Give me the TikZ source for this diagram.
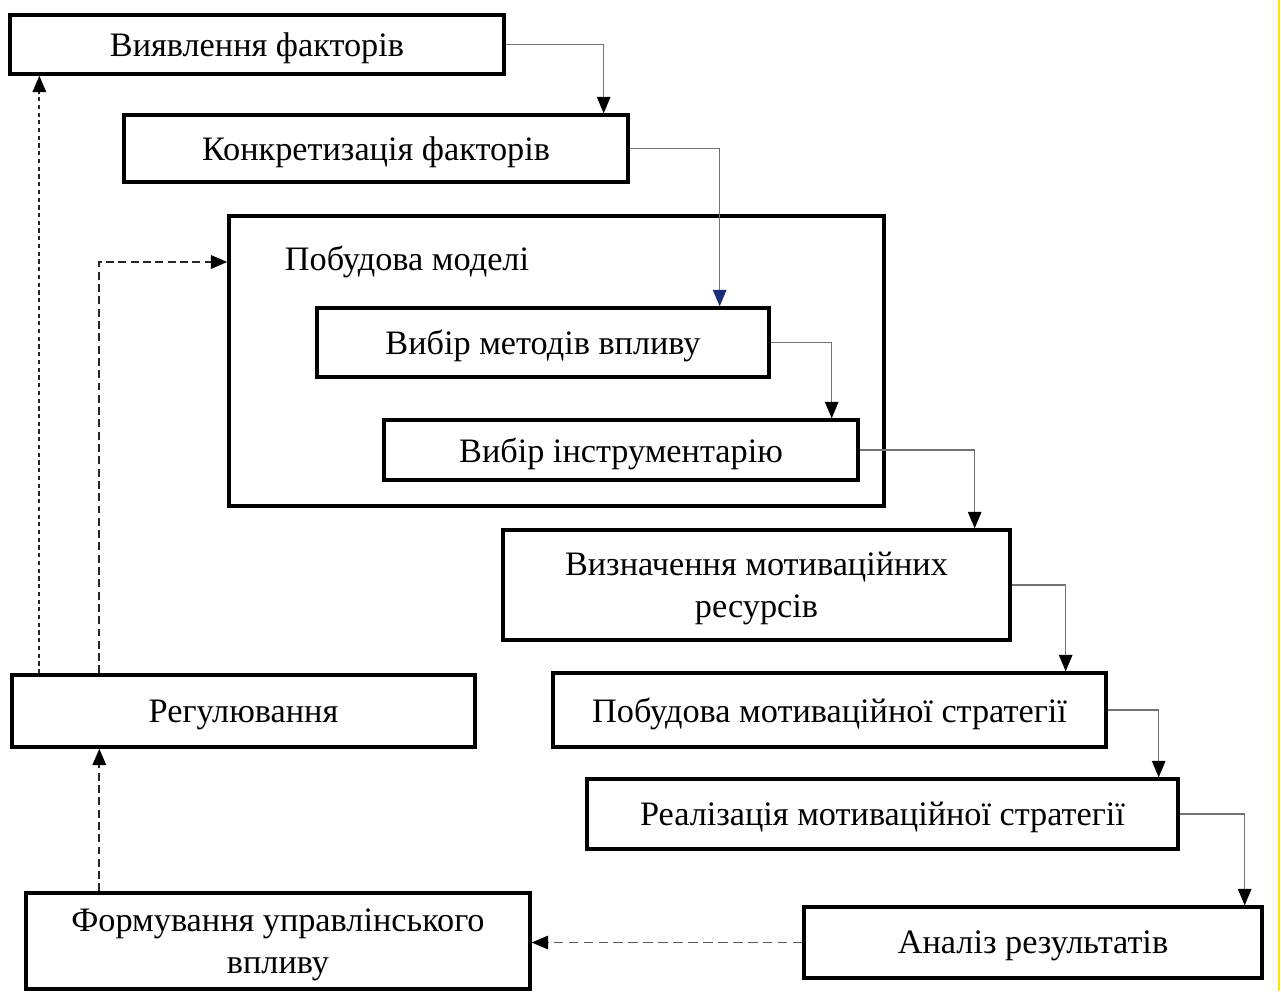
\documentclass[tikz,border=0pt]{standalone}
\usepackage{fontspec}
\setmainfont{Liberation Serif}
\usetikzlibrary{arrows.meta,calc}

\definecolor{tipblue}{RGB}{25,45,120}

\tikzset{
  blk/.style={draw, line width=1.9pt, inner sep=2pt, align=center, text depth=0pt,
    font=\fontsize{19.5}{24}\selectfont},
  conn/.style={draw=black!55, line width=0.8pt,
    -{Triangle[length=0.33cm,width=0.27cm,color=black]}},
  dashconn/.style={draw=black!85, line width=1.1pt, dash pattern=on 4.5pt off 2.5pt,
    -{Triangle[length=0.33cm,width=0.27cm,color=black]}},
  dotconn/.style={dashconn, line width=1pt, dash pattern=on 2.4pt off 2pt}
}

\begin{document}
\begin{tikzpicture}[x=0.02cm, y=-0.02cm]
  \def\px{0.02cm}
  % canvas
  \useasboundingbox (0,0) rectangle (1281,991);
  \draw[yellow!90!orange, line width=1pt] (1279,0) -- (1279,991);

  % outer block of the model
  \node[blk, minimum width=655*\px, minimum height=290*\px] (model) at (556.5,361) {};
  \node[font=\fontsize{19.5}{24}\selectfont] (modtitle) at (407,262) {Побудова моделі};

  % main chain
  \node[blk, minimum width=494*\px, minimum height=59*\px] (vyiav) at (257,44.5) {Виявлення факторів};
  \node[blk, minimum width=504*\px, minimum height=67*\px] (konk) at (376,148.5) {Конкретизація факторів};
  \node[blk, minimum width=452*\px, minimum height=69*\px] (metod) at (543,342.5) {Вибір методів впливу};
  \node[blk, minimum width=474*\px, minimum height=60*\px] (instr) at (621,450) {Вибір інструментарію};
  \node[blk, minimum width=507*\px, minimum height=110*\px] (resurs) at (756.5,585) {Визначення мотиваційних\\ресурсів};
  \node[blk, minimum width=553*\px, minimum height=74*\px] (strat) at (829.5,710) {Побудова мотиваційної стратегії};
  \node[blk, minimum width=591*\px, minimum height=70*\px] (realiz) at (882.5,814) {Реалізація мотиваційної стратегії};
  \node[blk, minimum width=458*\px, minimum height=71*\px] (analiz) at (1033,942.5) {Аналіз результатів};

  % feedback blocks
  \node[blk, minimum width=504*\px, minimum height=96*\px] (form) at (278,941) {Формування управлінського\\впливу};
  \node[blk, minimum width=463*\px, minimum height=72*\px] (rehul) at (243.5,711) {Регулювання};

  % forward arrows
  \draw[conn] (vyiav.east) -| ($(konk.north east)+(-26,0)$);
  \draw[conn, -{Triangle[length=0.33cm,width=0.27cm,color=tipblue]}] (konk.east) -| ($(metod.north east)+(-51,0)$);
  \draw[conn] (metod.east) -| ($(instr.north east)+(-28,0)$);
  \draw[conn] (instr.east) -| ($(resurs.north east)+(-37,0)$);
  \draw[conn] (resurs.east) -| ($(strat.north east)+(-42,0)$);
  \draw[conn] (strat.east) -| ($(realiz.north east)+(-21,0)$);
  \draw[conn] (realiz.east) -| ($(analiz.north east)+(-19,0)$);

  % feedback arrows
  \coordinate (lup) at ($(rehul.north west)+(29,0)$);
  \coordinate (rup) at ($(rehul.north west)+(89,0)$);
  \draw[dashconn, draw=black!65, dash pattern=on 5.5pt off 3pt] (analiz.west) -- (analiz.west -| form.east);
  \draw[dashconn] (form.north -| rup) -- (rehul.south -| rup);
  \draw[dashconn] (rup) |- (modtitle -| model.west);
  \draw[dotconn] (lup) -- (lup |- vyiav.south);
\end{tikzpicture}
\end{document}
